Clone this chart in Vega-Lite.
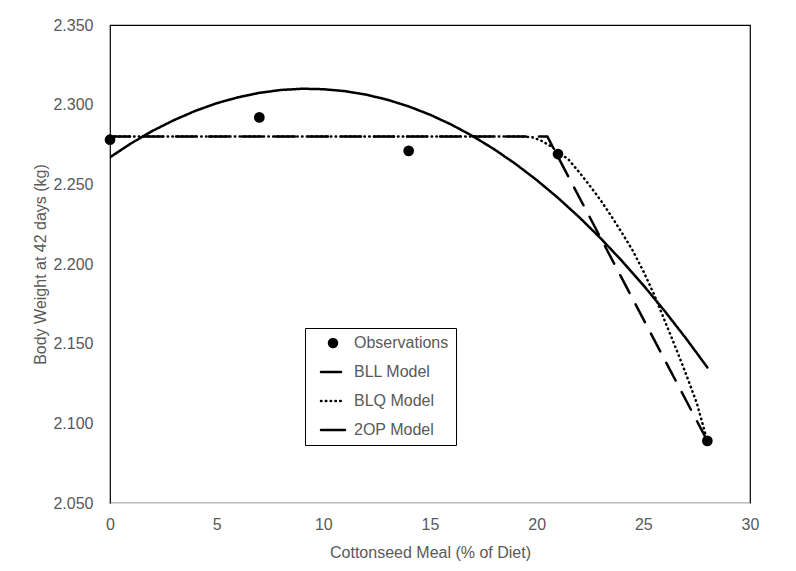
{
  "$schema": "https://vega.github.io/schema/vega-lite/v6.json",
  "width": 640,
  "height": 478,
  "autosize": {"type": "none"},
  "padding": {"left": 110, "top": 25, "right": 46, "bottom": 68},
  "background": "white",
  "config": {
    "font": "Liberation Sans",
    "view": {"stroke": "black", "strokeWidth": 1.2},
    "axis": {
      "grid": false,
      "ticks": false,
      "tickSize": 0,
      "labelFlush": false,
      "labelFont": "Liberation Sans",
      "labelFontSize": 16,
      "labelColor": "#595959",
      "titleFont": "Liberation Sans",
      "titleFontSize": 16,
      "titleFontWeight": "normal",
      "titleColor": "#595959"
    }
  },
  "datasets": {
    "obs": [
      {"x": 0, "y": 2.278},
      {"x": 7, "y": 2.292},
      {"x": 14, "y": 2.271},
      {"x": 21, "y": 2.269},
      {"x": 28, "y": 2.089}
    ],
    "models": [
      {"series": "BLL Model", "x": 0, "y": 2.28},
      {"series": "BLL Model", "x": 20.5, "y": 2.28},
      {"series": "BLL Model", "x": 28, "y": 2.089},
      {"series": "BLQ Model", "x": 0, "y": 2.28},
      {"series": "BLQ Model", "x": 19.3, "y": 2.28},
      {"series": "BLQ Model", "x": 19.8, "y": 2.2795},
      {"series": "BLQ Model", "x": 20.2, "y": 2.2775},
      {"series": "BLQ Model", "x": 20.6, "y": 2.2745},
      {"series": "BLQ Model", "x": 21, "y": 2.2705},
      {"series": "BLQ Model", "x": 21.5, "y": 2.2655},
      {"series": "BLQ Model", "x": 22, "y": 2.2575},
      {"series": "BLQ Model", "x": 22.5, "y": 2.249},
      {"series": "BLQ Model", "x": 23, "y": 2.24},
      {"series": "BLQ Model", "x": 23.5, "y": 2.23},
      {"series": "BLQ Model", "x": 24, "y": 2.2195},
      {"series": "BLQ Model", "x": 24.5, "y": 2.2085},
      {"series": "BLQ Model", "x": 25, "y": 2.1955},
      {"series": "BLQ Model", "x": 25.5, "y": 2.181},
      {"series": "BLQ Model", "x": 26, "y": 2.1645},
      {"series": "BLQ Model", "x": 26.5, "y": 2.148},
      {"series": "BLQ Model", "x": 27, "y": 2.131},
      {"series": "BLQ Model", "x": 27.5, "y": 2.113},
      {"series": "BLQ Model", "x": 28, "y": 2.089},
      {"series": "2OP Model", "x": 0, "y": 2.267},
      {"series": "2OP Model", "x": 1, "y": 2.2758},
      {"series": "2OP Model", "x": 2, "y": 2.2836},
      {"series": "2OP Model", "x": 3, "y": 2.2903},
      {"series": "2OP Model", "x": 4, "y": 2.2961},
      {"series": "2OP Model", "x": 5, "y": 2.3009},
      {"series": "2OP Model", "x": 6, "y": 2.3046},
      {"series": "2OP Model", "x": 7, "y": 2.3074},
      {"series": "2OP Model", "x": 8, "y": 2.3092},
      {"series": "2OP Model", "x": 9, "y": 2.31},
      {"series": "2OP Model", "x": 10, "y": 2.3097},
      {"series": "2OP Model", "x": 11, "y": 2.3085},
      {"series": "2OP Model", "x": 12, "y": 2.3063},
      {"series": "2OP Model", "x": 13, "y": 2.3031},
      {"series": "2OP Model", "x": 14, "y": 2.2989},
      {"series": "2OP Model", "x": 15, "y": 2.2937},
      {"series": "2OP Model", "x": 16, "y": 2.2875},
      {"series": "2OP Model", "x": 17, "y": 2.2803},
      {"series": "2OP Model", "x": 18, "y": 2.2721},
      {"series": "2OP Model", "x": 19, "y": 2.2629},
      {"series": "2OP Model", "x": 20, "y": 2.2527},
      {"series": "2OP Model", "x": 21, "y": 2.2415},
      {"series": "2OP Model", "x": 22, "y": 2.2293},
      {"series": "2OP Model", "x": 23, "y": 2.2161},
      {"series": "2OP Model", "x": 24, "y": 2.2019},
      {"series": "2OP Model", "x": 25, "y": 2.1867},
      {"series": "2OP Model", "x": 26, "y": 2.1705},
      {"series": "2OP Model", "x": 27, "y": 2.1533},
      {"series": "2OP Model", "x": 28, "y": 2.1351}
    ]
  },
  "layer": [
    {
      "data": {"name": "models"},
      "mark": {"type": "line", "color": "black", "strokeWidth": 2.5, "strokeCap": "round", "clip": true},
      "encoding": {
        "x": {
          "field": "x", "type": "quantitative",
          "scale": {"domain": [0, 30], "nice": false, "zero": false},
          "axis": {
            "title": "Cottonseed Meal (% of Diet)",
            "values": [0, 5, 10, 15, 20, 25, 30],
            "domainColor": "#d9d9d9",
            "domainWidth": 1.2,
            "labelPadding": 13,
            "titlePadding": 12
          }
        },
        "y": {
          "field": "y", "type": "quantitative",
          "scale": {"domain": [2.05, 2.35], "nice": false, "zero": false},
          "axis": {
            "title": "Body Weight at 42 days (kg)",
            "values": [2.05, 2.1, 2.15, 2.2, 2.25, 2.3, 2.35],
            "format": ".3f",
            "domain": false,
            "labelPadding": 17,
            "titlePadding": 4
          }
        },
        "detail": {"field": "series"},
        "strokeDash": {
          "field": "series", "type": "nominal",
          "scale": {
            "domain": ["Observations", "BLL Model", "BLQ Model", "2OP Model"],
            "range": [[1, 0], [20, 13], [0.5, 4.3], [1, 0]]
          },
          "legend": {
            "title": null,
            "orient": "none",
            "legendX": 195,
            "legendY": 303,
            "strokeColor": "black",
            "fillColor": "white",
            "padding": 7,
            "symbolOffset": 13,
            "labelOffset": 13,
            "rowPadding": 13,
            "symbolSize": 576,
            "symbolStrokeWidth": 2.5,
            "symbolStrokeColor": "black",
            "labelFont": "Liberation Sans",
            "labelFontSize": 16,
            "labelColor": "#595959",
            "encode": {
              "symbols": {
                "update": {
                  "shape": {"signal": "datum.value === 'Observations' ? 'circle' : 'stroke'"},
                  "size": {"signal": "datum.value === 'Observations' ? 110 : 576"},
                  "fill": {"signal": "datum.value === 'Observations' ? 'black' : 'transparent'"},
                  "stroke": {"value": "black"},
                  "strokeWidth": {"signal": "datum.value === 'Observations' ? 0 : 2.5"},
                  "strokeDash": {"signal": "datum.value === 'BLQ Model' ? [0.5, 4.3] : datum.value === 'BLL Model' ? [30, 0] : [1, 0]"},
                  "strokeCap": {"value": "round"}
                }
              }
            }
          }
        }
      }
    },
    {
      "data": {"name": "obs"},
      "mark": {"type": "point", "filled": true, "color": "black", "opacity": 1, "size": 115},
      "encoding": {
        "x": {"field": "x", "type": "quantitative"},
        "y": {"field": "y", "type": "quantitative"}
      }
    }
  ]
}
